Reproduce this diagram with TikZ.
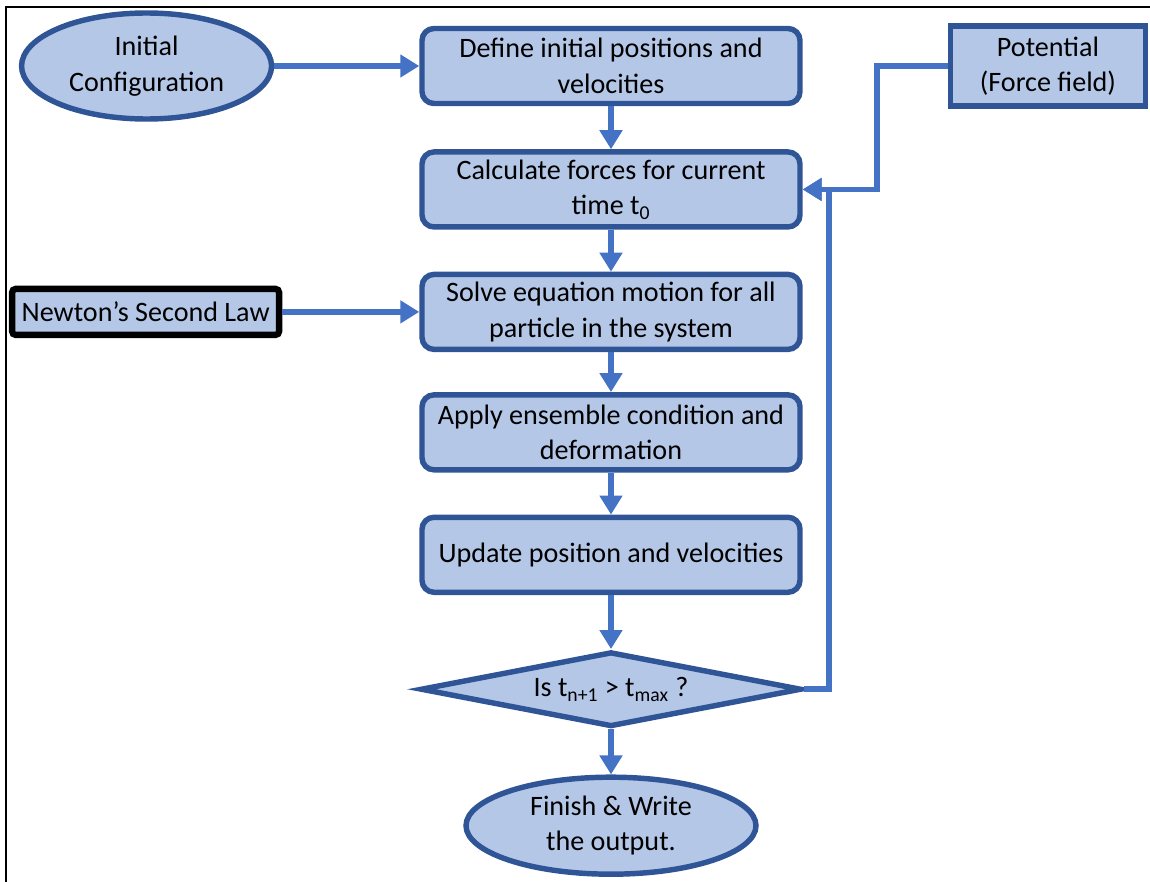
\documentclass[tikz,border=0pt]{standalone}
\usepackage{fontspec}
\setmainfont{Carlito}
\usetikzlibrary{positioning, arrows.meta, shapes.geometric}

\definecolor{boxfill}{HTML}{B4C7E7}
\definecolor{boxdraw}{HTML}{2F5597}
\definecolor{linkblue}{HTML}{4472C4}

\begin{document}
\begin{tikzpicture}[
        node distance=0.84cm and 2.9cm,
        base/.style={draw=boxdraw, fill=boxfill, line width=3.1pt, align=center, inner sep=2pt, font=\fontsize{16}{20.2}\selectfont},
        procbox/.style={base, rectangle, rounded corners=0.24cm, minimum width=7.56cm, minimum height=1.5cm},
        termbox/.style={base, ellipse, inner sep=0pt},
        inputbox/.style={base, rectangle, minimum width=3.9cm, minimum height=1.6cm},
        lawbox/.style={base, rectangle, draw=black, line width=3.6pt, rounded corners=2pt, minimum width=5.34cm, minimum height=0.92cm},
        decbox/.style={base, diamond, aspect=5.1, inner sep=0pt, minimum width=7.62cm, minimum height=1.5cm},
        arrow/.style={-{Triangle[length=0.38cm, width=0.44cm]}, draw=linkblue, line width=3.2pt}
    ]
        \useasboundingbox (0,0) rectangle (23,-17.64);
        % frame
        \draw[line width=1.2pt] (0.12,-17.64) -- (0.12,-0.14) -- (23,-0.14);

        % main column
        \node[procbox] (define) at (12.22,-1.32) {Define initial positions and\\velocities};
        \node[procbox, below=0.86cm of define] (calc) {Calculate forces for current\\time t\textsubscript{0}};
        \node[procbox, below=0.84cm of calc] (solve) {Solve equation motion for all\\particle in the system};
        \node[procbox, below=0.8cm of solve] (apply) {Apply ensemble condition and\\deformation};
        \node[procbox, below=0.84cm of apply] (update) {Update position and velocities};
        \node[decbox, below=1.08cm of update] (check) {Is t\textsubscript{n+1} > t\textsubscript{max} ?};
        \node[termbox, minimum width=5.8cm, minimum height=1.94cm, below=0.9cm of check] (finish) {Finish \& Write\\the output.};

        % inputs
        \node[termbox, minimum width=5.0cm, minimum height=2.12cm, left=2.9cm of define] (init) {Initial\\Configuration};
        \node[inputbox, right=2.9cm of define] (potential) {Potential\\(Force field)};
        \node[lawbox, left=2.74cm of solve] (newton) {Newton’s Second Law};

        % arrows
        \draw[arrow] (init) -- (define);
        \draw[arrow] (define) -- (calc);
        \draw[arrow] (calc) -- (solve);
        \draw[arrow] (solve) -- (apply);
        \draw[arrow] (apply) -- (update);
        \draw[arrow] (update) -- (check);
        \draw[arrow] (check) -- (finish);
        \draw[arrow] (newton) -- (solve);
        \draw[arrow] (potential.west) -- ++(-1.42,0) |- (calc.east);
        \draw[arrow] (check.east) -- ++(0.5,0) |- (calc.east);
    \end{tikzpicture}
\end{document}
